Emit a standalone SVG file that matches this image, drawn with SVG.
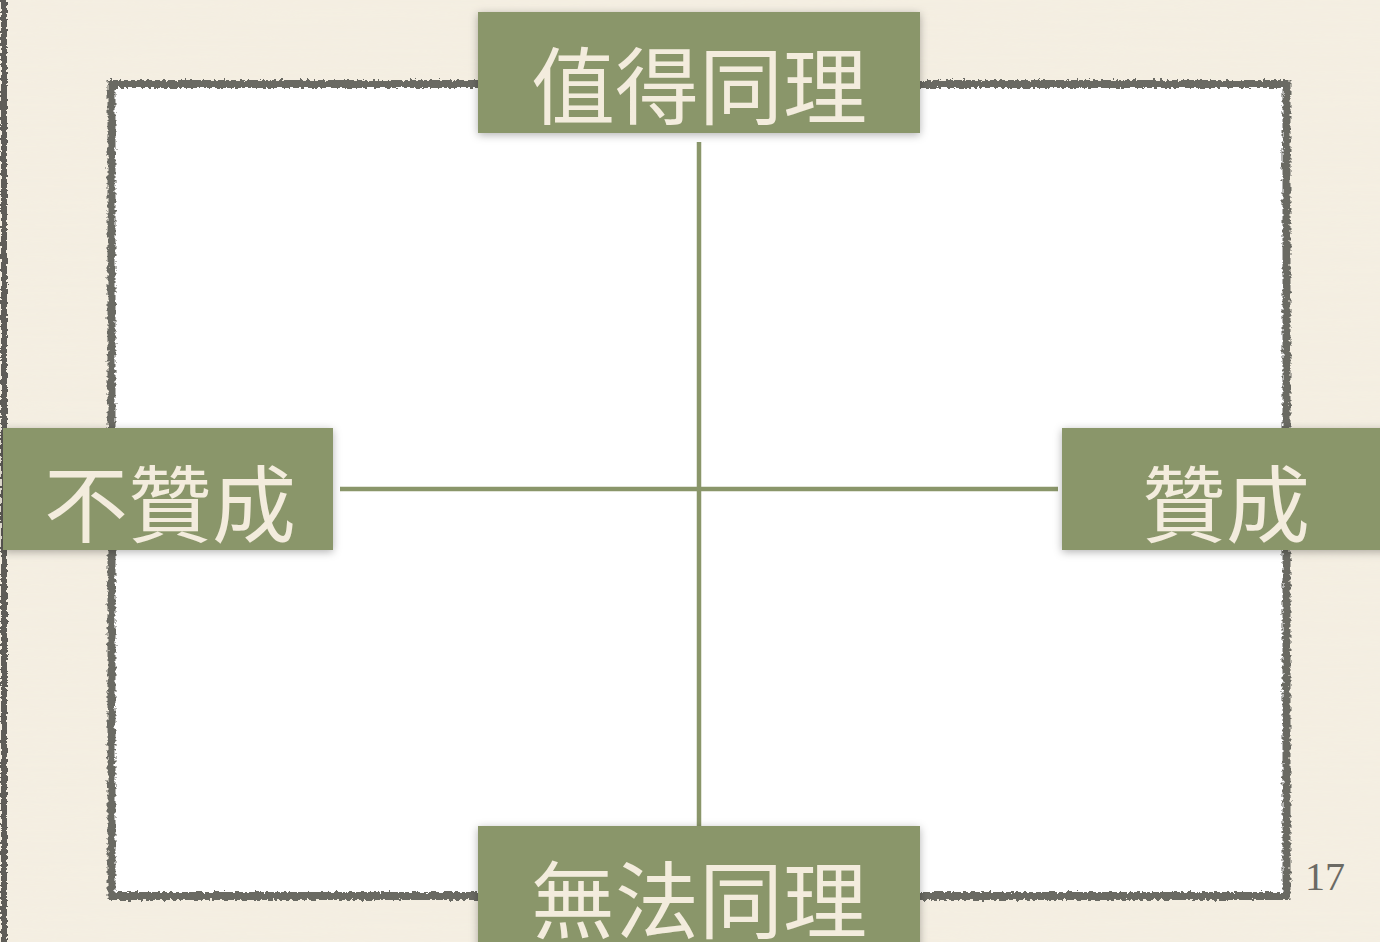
<svg xmlns="http://www.w3.org/2000/svg" width="1380" height="942" viewBox="0 0 1380 942">
  <defs>
    <filter id="rough" x="-5%" y="-5%" width="110%" height="110%">
      <feTurbulence type="fractalNoise" baseFrequency="0.3" numOctaves="2" seed="3" result="n"/>
      <feDisplacementMap in="SourceGraphic" in2="n" scale="6" xChannelSelector="R" yChannelSelector="G"/>
    </filter>
    <filter id="roughEdge" filterUnits="userSpaceOnUse" x="-10" y="-10" width="30" height="962">
      <feTurbulence type="fractalNoise" baseFrequency="0.3" numOctaves="2" seed="5" result="n"/>
      <feDisplacementMap in="SourceGraphic" in2="n" scale="5" xChannelSelector="R" yChannelSelector="G"/>
    </filter>
    <filter id="shadow" x="-10%" y="-20%" width="120%" height="140%">
      <feDropShadow dx="0" dy="2" stdDeviation="4" flood-color="#000" flood-opacity="0.3"/>
    </filter>
    <filter id="paper" x="0" y="0" width="100%" height="100%">
      <feTurbulence type="fractalNoise" baseFrequency="0.004 0.25" numOctaves="2" seed="7" result="t"/>
      <feColorMatrix in="t" type="matrix" values="0 0 0 0 0.85  0 0 0 0 0.82  0 0 0 0 0.74  0 0 0 0.25 0" result="c"/>
      <feComposite in="c" in2="SourceGraphic" operator="in"/>
    </filter>
  </defs>
  <style>
    .box { fill: #8a966a; filter: url(#shadow); }
    .lbl { fill: #f3ecdd; font-family: "Noto Sans CJK TC", "Noto Sans CJK SC", sans-serif; font-size: 84px; text-anchor: middle; }
    .conn { stroke: #8a966a; stroke-width: 4.5; fill: none; }
  </style>
  <rect x="0" y="0" width="1380" height="942" fill="#f5efe2"/>
  <rect x="0" y="0" width="1380" height="942" fill="#f5efe2" filter="url(#paper)"/>
  <rect x="1" y="-5" width="6" height="952" fill="#5e5d58" filter="url(#roughEdge)"/>
  <g id="frame">
    <rect x="111.5" y="84" width="1175" height="812" fill="#ffffff"/>
    <rect x="111.5" y="84" width="1175" height="812" fill="none" stroke="#6b6a64" stroke-width="8" filter="url(#rough)"/>
  </g>
  <g id="connectors">
    <line class="conn" x1="699" y1="142" x2="699" y2="826"/>
    <line class="conn" x1="340" y1="489" x2="1058" y2="489"/>
  </g>
  <g id="node-top">
    <rect class="box" x="478" y="12" width="442" height="121"/>
    <text class="lbl" x="699" y="118">值得同理</text>
  </g>
  <g id="node-left">
    <rect class="box" x="3" y="428" width="330" height="122"/>
    <text class="lbl" x="170" y="536">不贊成</text>
  </g>
  <g id="node-right">
    <rect class="box" x="1062" y="428" width="330" height="122"/>
    <text class="lbl" x="1226" y="536">贊成</text>
  </g>
  <g id="node-bottom">
    <rect class="box" x="478" y="826" width="442" height="130"/>
    <text class="lbl" x="699" y="932">無法同理</text>
  </g>
  <text x="1325" y="890" font-family="Liberation Serif, serif" font-size="40" fill="#6b6a64" text-anchor="middle">17</text>
</svg>
